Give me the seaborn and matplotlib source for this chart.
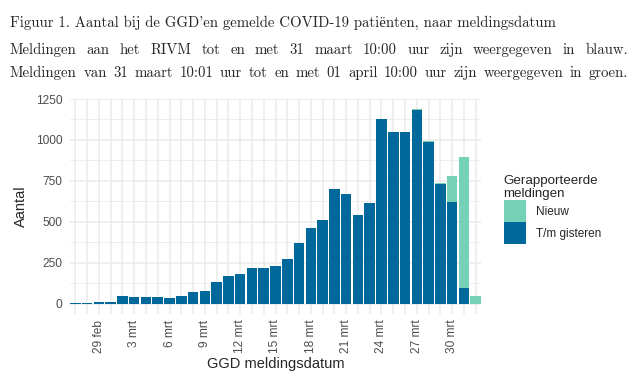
import pandas as pd
import numpy as np
import matplotlib
matplotlib.use('Agg')
import matplotlib.pyplot as plt
import seaborn as sns
from matplotlib.patches import Patch

# Data (27 feb t/m 1 apr)
datums = ['27 feb', '28 feb', '29 feb'] + [f'{d} mrt' for d in range(1, 32)] + ['1 apr']
tm_gisteren = [5, 6, 11, 12, 49, 43, 43, 43, 37, 50, 75, 80, 135, 171, 183, 220, 220,
               232, 274, 372, 463, 512, 701, 671, 543, 616, 1128, 1049, 1049, 1183,
               988, 732, 622, 98, 0]
nieuw = [0, 0, 0, 0, 0, 0, 0, 0, 0, 0, 0, 0, 0, 0, 0, 0, 0,
         0, 0, 0, 0, 0, 0, 0, 0, 0, 0, 0, 0, 6,
         6, 6, 158, 798, 49]

df = pd.DataFrame({'datum': datums, 'tm_gisteren': tm_gisteren, 'nieuw': nieuw})
df['totaal'] = df['tm_gisteren'] + df['nieuw']

blauw = '#01689B'
groen = '#76D2B6'
grijs_tekst = '#4D4D4D'

sns.set_style('white')
plt.rcParams['font.family'] = ['Liberation Sans', 'DejaVu Sans']

fig = plt.figure(figsize=(6.41, 3.83), dpi=100)
ax = fig.add_axes([70 / 641, 1 - 314 / 383, (481 - 70) / 641, (314 - 99) / 383])

# Grid (ggplot theme_minimal stijl)
for y in [125, 375, 625, 875, 1125]:
    ax.axhline(y, color='#EBEBEB', lw=0.6, zorder=0)
for y in [0, 250, 500, 750, 1000, 1250]:
    ax.axhline(y, color='#EBEBEB', lw=1.1, zorder=0)
for x in range(len(datums)):
    ax.axvline(x, color='#EBEBEB', lw=1.1, zorder=0)

# Gestapelde staven: totaal (groen) en daarover t/m gisteren (blauw)
sns.barplot(data=df, x='datum', y='totaal', order=datums, color=groen,
            width=0.9, saturation=1, linewidth=0, ax=ax, zorder=2)
sns.barplot(data=df, x='datum', y='tm_gisteren', order=datums, color=blauw,
            width=0.9, saturation=1, linewidth=0, ax=ax, zorder=3)

ax.set_xlim(-0.45, len(datums) - 0.55)
ax.set_ylim(-62, 1250)
ax.set_yticks([0, 250, 500, 750, 1000, 1250])
ax.set_xticks(range(len(datums)))
labels = [d if (i - 2) % 3 == 0 and i >= 2 else '' for i, d in enumerate(datums)]
ax.set_xticklabels(labels, rotation=90, fontsize=8.6, color=grijs_tekst)
ax.tick_params(axis='y', labelsize=8.6, labelcolor=grijs_tekst, length=0, pad=5.5)
ax.tick_params(axis='x', length=0, pad=4)
for s in ax.spines.values():
    s.set_visible(False)
ax.set_xlabel('GGD meldingsdatum', fontsize=10.5, labelpad=3)
ax.set_ylabel('Aantal', fontsize=10.5, labelpad=6)

# Legenda
handles = [Patch(facecolor=groen, edgecolor='none', label='Nieuw'),
           Patch(facecolor=blauw, edgecolor='none', label='T/m gisteren')]
fig.legend(handles=handles, title='Gerapporteerde\nmeldingen', loc='upper left',
           bbox_to_anchor=(493 / 641, 1 - 164 / 383), frameon=False, fontsize=8.5,
           title_fontsize=9.6, handlelength=1.86, handleheight=2.49, labelspacing=0,
           handletextpad=0.85, alignment='left')

# Titel en ondertitel (LaTeX stijl)
serif = ['cmr10', 'Liberation Serif']
renderer = fig.canvas.get_renderer()
titel = "Figuur 1. Aantal bij de GGD'en gemelde COVID-19 patiënten, naar meldingsdatum"

# lettergrootte zo kiezen dat de eerste regel even breed is als in het origineel
t = fig.text(10 / 641, 1 - 27 / 383, titel, family=serif, fontsize=10, va='baseline')
grootte = 10 * 548 / t.get_window_extent(renderer).width
t.set_fontsize(grootte)


def uitgevuld(tekst, y_px, links=10, rechts=628):
    # woorden los plaatsen zodat de regel uitgevuld wordt (justify)
    woorden = tekst.split(' ')
    objecten = [fig.text(0, 1 - y_px / 383, w, family=serif, fontsize=grootte, va='baseline')
                for w in woorden]
    breedtes = [o.get_window_extent(renderer).width for o in objecten]
    gat = (rechts - links - sum(breedtes)) / (len(woorden) - 1)
    x = links
    for o, b in zip(objecten, breedtes):
        o.set_x(x / 641)
        x += b + gat


uitgevuld('Meldingen aan het RIVM tot en met 31 maart 10:00 uur zijn weergegeven in blauw.', 54)
uitgevuld('Meldingen van 31 maart 10:01 uur tot en met 01 april 10:00 uur zijn weergegeven in groen.', 77)

fig.savefig('out.png', dpi=100)
